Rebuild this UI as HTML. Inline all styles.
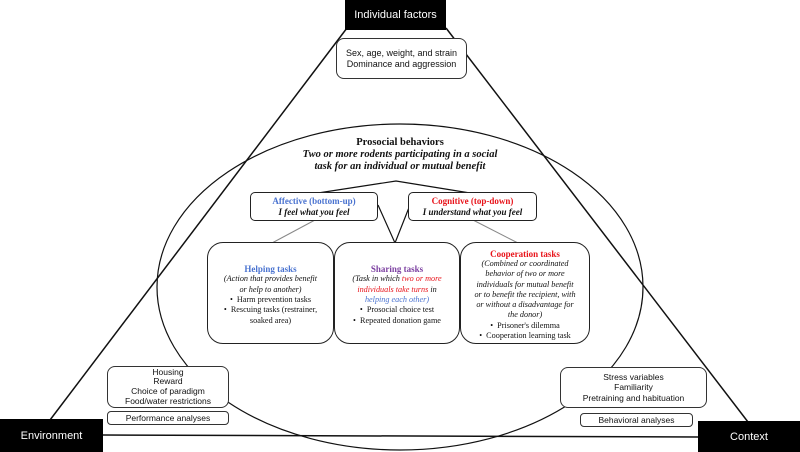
<!DOCTYPE html>
<html><head><meta charset="utf-8"><style>
body{margin:0;width:800px;height:452px;background:#fff;position:relative;overflow:hidden;font-family:"Liberation Sans",sans-serif}
.b{position:absolute;box-sizing:border-box;text-align:center}
.blk{background:#000;color:#fff;font-size:11px;display:flex;align-items:center;justify-content:center}
.r{border:1px solid #333;border-radius:8px;background:#fff;font-size:8.5px;line-height:10.5px;color:#111;display:flex;flex-direction:column;justify-content:center}
.s{font-family:"Liberation Serif",serif;color:#111}
.big{border:1px solid #222;border-radius:16px;background:#fff;font-size:8.2px;line-height:10.3px;padding-top:4px;display:flex;flex-direction:column;justify-content:center}
i{font-style:italic}
ul{margin:0;padding:0;list-style:none}
</style></head><body>
<svg width="800" height="452" style="position:absolute;left:0;top:0">
<g stroke="#111" fill="none" stroke-width="1.5">
<line x1="347" y1="28" x2="50" y2="420"/>
<line x1="446" y1="28" x2="748" y2="422"/>
<line x1="103" y1="435" x2="698" y2="437"/>
<ellipse cx="400" cy="287" rx="243" ry="163" stroke-width="1.2"/>
<polyline points="318,193 396,181 470,193" stroke-width="1.2"/>
<polyline points="378,205 395,243 410,205" stroke-width="1.2"/>
</g>
<g stroke="#888" stroke-width="1">
<line x1="315" y1="220" x2="272" y2="243"/>
<line x1="473" y1="220" x2="518" y2="243"/>
</g>
</svg>
<div class="b blk" style="left:345px;top:0;width:101px;height:30px">Individual factors</div>
<div class="b blk" style="left:0;top:419px;width:103px;height:33px">Environment</div>
<div class="b blk" style="left:698px;top:421px;width:102px;height:31px">Context</div>
<div class="b r" style="left:336px;top:38px;width:131px;height:41px;font-size:9px;line-height:11px">Sex, age, weight, and strain<br>Dominance and aggression</div>
<div class="b r" style="left:107px;top:366px;width:122px;height:42px;line-height:9.6px">Housing<br>Reward<br>Choice of paradigm<br>Food/water restrictions</div>
<div class="b r" style="left:107px;top:411px;width:122px;height:14px;border-radius:4px">Performance analyses</div>
<div class="b r" style="left:560px;top:367px;width:147px;height:41px">Stress variables<br>Familiarity<br>Pretraining and habituation</div>
<div class="b r" style="left:580px;top:413px;width:113px;height:14px;border-radius:4px">Behavioral analyses</div>
<div class="b s" style="left:240px;top:137px;width:320px;font-size:10.5px;line-height:12px"><b>Prosocial behaviors</b><br><b><i>Two or more rodents participating in a social<br>task for an individual or mutual benefit</i></b></div>
<div class="b r s" style="left:250px;top:192px;width:128px;height:29px;font-size:9px;line-height:11px;border-color:#222;border-radius:5px"><b style="color:#4a73d0">Affective (bottom-up)</b><b><i>I feel what you feel</i></b></div>
<div class="b r s" style="left:408px;top:192px;width:129px;height:29px;font-size:9px;line-height:11px;border-color:#222;border-radius:5px"><b style="color:#e8141b">Cognitive (top-down)</b><b><i>I understand what you feel</i></b></div>
<div class="b big s" style="left:207px;top:242px;width:127px;height:102px"><b style="color:#4a73d0;font-size:9px">Helping tasks</b><i>(Action that provides benefit<br>or help to another)</i><ul><li>• &nbsp;Harm prevention tasks</li><li>• &nbsp;Rescuing tasks (restrainer,<br>soaked area)</li></ul></div>
<div class="b big s" style="left:334px;top:242px;width:126px;height:102px"><b style="color:#7b3fa0;font-size:9px">Sharing tasks</b><i>(Task in which <span style="color:#e8141b">two or more<br>individuals take turns</span> in<br><span style="color:#4a73d0">helping each other)</span></i><ul><li>• &nbsp;Prosocial choice test</li><li>• &nbsp;Repeated donation game</li></ul></div>
<div class="b big s" style="left:460px;top:242px;width:130px;height:102px"><b style="color:#e8141b;font-size:9px">Cooperation tasks</b><i>(Combined or coordinated<br>behavior of two or more<br>individuals for mutual benefit<br>or to benefit the recipient, with<br>or without a disadvantage for<br>the donor)</i><ul><li>• &nbsp;Prisoner's dilemma</li><li>• &nbsp;Cooperation learning task</li></ul></div>
</body></html>
